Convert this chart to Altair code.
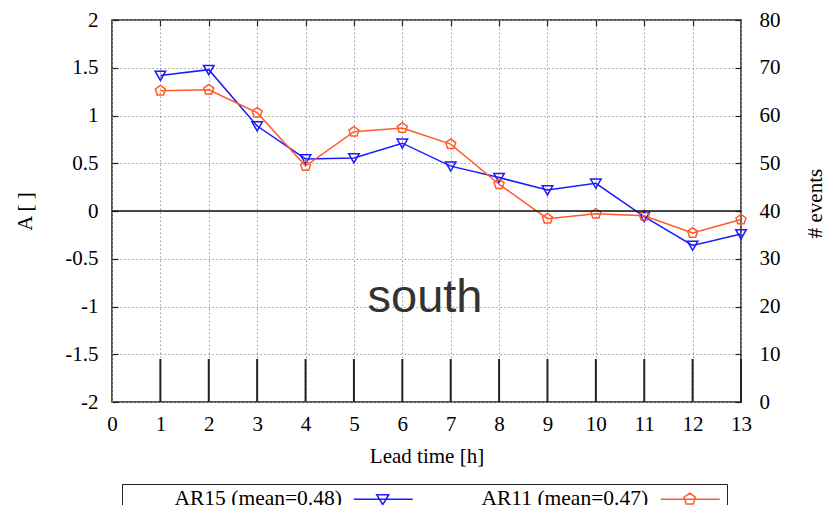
import altair as alt
import pandas as pd

lead = [1, 2, 3, 4, 5, 6, 7, 8, 9, 10, 11, 12, 13]
ar15 = [1.42, 1.48, 0.89, 0.545, 0.555, 0.71, 0.47, 0.35, 0.22, 0.29, -0.06, -0.36, -0.24]
ar11 = [1.26, 1.27, 1.03, 0.47, 0.83, 0.87, 0.70, 0.28, -0.08, -0.03, -0.05, -0.23, -0.09]
events = [9, 9, 9, 9, 9, 9, 9, 9, 9, 9, 9, 9, 9]
series_names = ["AR15 (mean=0.48)", "AR11 (mean=0.47)"]
colors = ["#1a1aff", "#ff5a28"]
x_ticks = [0, 1, 2, 3, 4, 5, 6, 7, 8, 9, 10, 11, 12, 13]
a_ticks = [-2, -1.5, -1, -0.5, 0, 0.5, 1, 1.5, 2]
ev_ticks = [0, 10, 20, 30, 40, 50, 60, 70, 80]
panel_label = ["south"]

df_a = pd.DataFrame({
    "lead": lead + lead,
    "A": ar15 + ar11,
    "series": [series_names[0]] * len(lead) + [series_names[1]] * len(lead),
})
df_ev = pd.DataFrame({"lead": lead, "events": events})
df_zero = pd.DataFrame({"A": [0]})
df_leg = pd.DataFrame({"series": series_names})
df_lab = pd.DataFrame({"t": panel_label})

FONT = "Liberation Serif"
x_scale = alt.Scale(domain=[0, 13], nice=False, zero=False)
ya_scale = alt.Scale(domain=[-2, 2], nice=False, zero=False)
ye_scale = alt.Scale(domain=[0, 80], nice=False, zero=False)

tri = "M-1,-0.8L1,-0.8L0,0.95Z"
pent = "M0,-1L0.951,-0.309L0.588,0.809L-0.588,0.809L-0.951,-0.309Z"
tri_leg = "M217,0L276,0M240,-4.5L252,-4.5L246,5.5Z"
pent_leg = "M217,0L276,0M246,-6L251.7,-1.9L249.5,4.9L242.5,4.9L240.3,-1.9Z"

grid_kw = dict(gridColor="#9a9a9a", gridDash=[1.5, 2.5], gridWidth=1)

bars = alt.Chart(df_ev).mark_rule(color="#222222", strokeWidth=2).encode(
    x=alt.X("lead:Q", scale=x_scale,
            axis=alt.Axis(title="Lead time [h]", values=x_ticks, tickSize=0,
                          labelPadding=11, titlePadding=11, grid=True,
                          labelFlush=False,
                          labelExpr="toString(datum.value)", **grid_kw)),
    y=alt.Y("events:Q", scale=ye_scale,
            axis=alt.Axis(orient="right", title="# events", values=ev_ticks,
                          offset=-6, tickSize=6, labelPadding=18, grid=False,
                          titleAngle=270, titleX=80, titleY=183,
                          titleBaseline="middle",
                          labelExpr="toString(datum.value)")),
    y2=alt.datum(0),
)

lines = alt.Chart(df_a).mark_line(strokeWidth=1.5).encode(
    x=alt.X("lead:Q", scale=x_scale, axis=None),
    y=alt.Y("A:Q", scale=ya_scale,
            axis=alt.Axis(orient="left", title="A [ ]", values=a_ticks,
                          offset=-6, tickSize=6, labelPadding=14, grid=True,
                          titleAngle=270, titleX=-93, titleY=191,
                          titleBaseline="middle",
                          labelExpr="toString(datum.value)", **grid_kw)),
    color=alt.Color("series:N", scale=alt.Scale(domain=series_names, range=colors),
                    legend=None),
)

points = alt.Chart(df_a).mark_point(filled=False, size=110, strokeWidth=1.5, opacity=1).encode(
    x=alt.X("lead:Q", scale=x_scale, axis=None),
    y=alt.Y("A:Q", scale=ya_scale, axis=None),
    color=alt.Color("series:N", scale=alt.Scale(domain=series_names, range=colors),
                    legend=None),
    shape=alt.Shape("series:N", scale=alt.Scale(domain=series_names, range=[tri, pent]),
                    legend=None),
)

zero = alt.Chart(df_zero).mark_rule(color="#111111", strokeWidth=1.3).encode(
    y=alt.Y("A:Q", scale=ya_scale, axis=None),
)

top_ticks = alt.Chart(df_ev).mark_point(opacity=0).encode(
    x=alt.X("lead:Q", scale=x_scale,
            axis=alt.Axis(orient="top", offset=-6, tickSize=6, labels=False,
                          domain=False, grid=False, title=None,
                          values=x_ticks[1:-1])),
)

leg_props = dict(title=None, orient="none", legendX=10, legendY=464,
                 direction="horizontal", strokeColor="#222222", padding=4,
                 labelFont=FONT, labelFontSize=21.5, labelColor="black",
                 labelOffset=27, labelLimit=600, columnPadding=17,
                 symbolStrokeWidth=1.5, symbolSize=4, fillColor="white")

legend_layer = alt.Chart(df_leg).mark_point(filled=False, size=4, strokeWidth=1.5, opacity=1).encode(
    color=alt.Color("series:N", scale=alt.Scale(domain=series_names, range=colors),
                    legend=alt.Legend(**leg_props)),
    shape=alt.Shape("series:N", scale=alt.Scale(domain=series_names, range=[tri_leg, pent_leg]),
                    legend=alt.Legend(**leg_props)),
).transform_filter("false")

label = alt.Chart(df_lab).mark_text(font="Liberation Sans", fontSize=47, color="#333333",
                                    align="center", baseline="middle").encode(
    x=alt.value(313), y=alt.value(278), text="t:N")

chart = alt.layer(bars, lines, points, zero, top_ticks, legend_layer, label).resolve_scale(
    y="independent", color="independent", shape="independent"
).resolve_axis(x="independent", y="independent").properties(
    width=629, height=382,
    background="white",
    autosize=alt.AutoSizeParams(type="none"),
    padding={"left": 112, "top": 20, "right": 84, "bottom": 103},
).configure_view(stroke="#222222", strokeWidth=1.5).configure_axis(
    labelFont=FONT, labelFontSize=21, labelColor="black",
    titleFont=FONT, titleFontSize=21, titleFontWeight="normal", titleColor="black",
    domain=False, tickColor="#222222", tickWidth=1.2,
)

chart.save("out.html", embed_options={"renderer": "svg", "actions": False})
